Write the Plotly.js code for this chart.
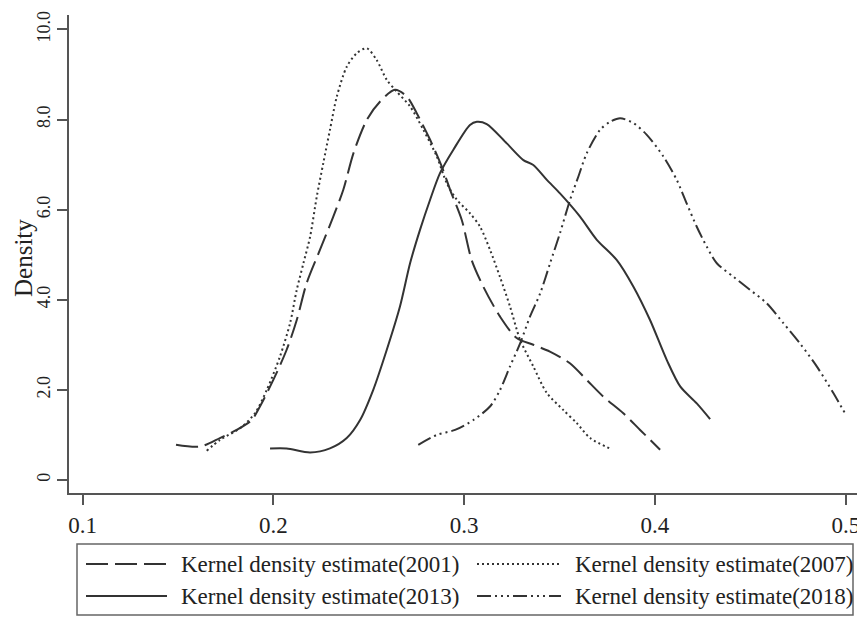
<!DOCTYPE html>
<html>
<head>
<meta charset="utf-8">
<script src="https://cdn.plot.ly/plotly-3.0.1.min.js"></script>
<style>
html,body{margin:0;padding:0;background:#fff;}
#chart{width:857px;height:617px;}
</style>
</head>
<body>
<div id="chart"></div>
<script>
// ---- data ----
const seriesNames = [
  "Kernel density estimate(2001)",
  "Kernel density estimate(2007)",
  "Kernel density estimate(2013)",
  "Kernel density estimate(2018)"
];
const yTitle = "Density";

const x2001 = [0.1489,0.1615,0.1719,0.1807,0.1886,0.1929,0.1999,0.2069,0.2122,0.2174,0.2244,0.2314,0.2366,0.2419,0.2489,0.2559,0.2637,0.2699,0.2751,0.2821,0.2882,0.2926,0.2987,0.3039,0.3100,0.3187,0.3275,0.3362,0.3449,0.3554,0.3642,0.3729,0.3834,0.3922,0.4027];
const y2001 = [0.78,0.74,0.93,1.11,1.33,1.63,2.22,2.89,3.55,4.37,5.11,5.85,6.44,7.25,7.99,8.40,8.66,8.51,8.14,7.55,6.96,6.44,5.77,4.88,4.29,3.63,3.15,3.00,2.85,2.59,2.22,1.85,1.48,1.11,0.67];

const x2007 = [0.1650,0.1720,0.1825,0.1903,0.1965,0.2034,0.2087,0.2122,0.2157,0.2192,0.2227,0.2261,0.2296,0.2332,0.2384,0.2436,0.2489,0.2541,0.2594,0.2646,0.2716,0.2786,0.2856,0.2908,0.2961,0.3030,0.3083,0.3135,0.3187,0.3240,0.3293,0.3362,0.3433,0.3520,0.3590,0.3660,0.3773];
const y2007 = [0.65,0.89,1.15,1.48,2.00,2.74,3.48,4.22,4.81,5.40,6.29,7.03,7.77,8.51,9.17,9.47,9.58,9.32,8.88,8.62,8.29,7.77,7.18,6.59,6.22,5.92,5.62,5.11,4.51,3.85,3.11,2.52,1.93,1.55,1.26,0.93,0.68];

const x2013 = [0.1982,0.2069,0.2192,0.2296,0.2384,0.2454,0.2523,0.2594,0.2663,0.2716,0.2768,0.2821,0.2873,0.2943,0.3030,0.3066,0.3118,0.3223,0.3310,0.3362,0.3433,0.3502,0.3606,0.3695,0.3800,0.3887,0.3974,0.4062,0.4133,0.4219,0.4289];
const y2013 = [0.70,0.70,0.61,0.70,0.93,1.33,2.00,2.89,3.85,4.81,5.55,6.22,6.81,7.33,7.88,7.95,7.90,7.47,7.10,6.99,6.66,6.36,5.85,5.33,4.88,4.29,3.55,2.66,2.07,1.70,1.35];

const x2018 = [0.2759,0.2856,0.2952,0.3048,0.3135,0.3188,0.3240,0.3293,0.3345,0.3398,0.3450,0.3502,0.3555,0.3598,0.3642,0.3712,0.3764,0.3817,0.3887,0.3957,0.4044,0.4114,0.4166,0.4219,0.4271,0.4324,0.4411,0.4498,0.4586,0.4673,0.4760,0.4848,0.4935,0.4996];
const y2018 = [0.78,1.00,1.11,1.33,1.63,2.00,2.52,3.03,3.63,4.14,4.81,5.48,6.22,6.73,7.25,7.77,7.95,8.03,7.92,7.66,7.18,6.66,6.14,5.62,5.18,4.81,4.51,4.22,3.92,3.48,3.03,2.52,1.93,1.48];

const xTickVals = [0.1,0.2,0.3,0.4,0.5];
const xTickText = ["0.1","0.2","0.3","0.4","0.5"];
const yTickVals = [0,2,4,6,8,10];
const yTickText = ["0","2.0","4.0","6.0","8.0","10.0"];

// ---- styling ----
const lineColor = "#333333";
const dashes = ["22px,7px", "2px,3px", "solid", "14px,4px,2px,4px,2px,4px,2px,4px"];
const xs = [x2001, x2007, x2013, x2018];
const ys = [y2001, y2007, y2013, y2018];
const serif = "Liberation Serif, Times New Roman, serif";

const traces = xs.map((xv, i) => ({
  type: "scatter",
  mode: "lines",
  x: xv,
  y: ys[i],
  name: seriesNames[i],
  showlegend: false,
  line: {color: lineColor, width: 2, dash: dashes[i], shape: "spline", smoothing: 0.8}
}));

// plot area in pixels
const W = 857, H = 617;
const mL = 69, mR = 0, mT = 15, mB = 124;
const pw = W - mL - mR, ph = H - mT - mB;
const px = v => (v - mL) / pw;
const py = v => (H - mB - v) / ph;

const shapes = [];
const annotations = [];
// legend box
shapes.push({type: "rect", xref: "paper", yref: "paper",
  x0: px(77), x1: px(853), y0: py(615), y1: py(544),
  line: {color: "#666", width: 1.5}, fillcolor: "rgba(0,0,0,0)"});
const legendPos = [
  {s0: 86, s1: 167, t: 179, y: 564},
  {s0: 477, s1: 561, t: 573, y: 564},
  {s0: 86, s1: 167, t: 179, y: 596},
  {s0: 477, s1: 561, t: 573, y: 596}
];
legendPos.forEach((p, i) => {
  shapes.push({type: "line", xref: "paper", yref: "paper",
    x0: px(p.s0), x1: px(p.s1), y0: py(p.y), y1: py(p.y),
    line: {color: lineColor, width: 2, dash: dashes[i]}});
  annotations.push({xref: "paper", yref: "paper", x: px(p.t), y: py(p.y),
    xanchor: "left", yanchor: "middle", showarrow: false,
    text: seriesNames[i],
    font: {family: serif, size: 23, color: "#222"}});
});
// y-axis title
annotations.push({xref: "paper", yref: "paper", x: px(23), y: py(258),
  xanchor: "center", yanchor: "middle", showarrow: false, textangle: -90,
  text: yTitle, font: {family: serif, size: 25, color: "#222"}});

const layout = {
  width: W, height: H,
  margin: {l: mL, r: mR, t: mT, b: mB, pad: 0},
  paper_bgcolor: "#fff", plot_bgcolor: "#fff",
  font: {family: serif, color: "#222"},
  showlegend: false,
  xaxis: {
    range: [0.0928, 0.5059],
    tickvals: xTickVals, ticktext: xTickText,
    showline: true, linecolor: "#555", linewidth: 2,
    ticks: "outside", ticklen: 10, tickwidth: 2, tickcolor: "#555",
    showgrid: false, zeroline: false,
    ticklabeloverflow: "allow",
    tickfont: {size: 23, color: "#222"}
  },
  yaxis: {
    range: [-0.29, 10.32],
    tickvals: yTickVals, ticktext: yTickText,
    showline: true, linecolor: "#555", linewidth: 2,
    ticks: "outside", ticklen: 10, tickwidth: 2, tickcolor: "#555",
    showgrid: false, zeroline: false,
    tickangle: -90,
    tickfont: {size: 18, color: "#222"}
  },
  shapes: shapes,
  annotations: annotations
};

Plotly.newPlot("chart", traces, layout, {displayModeBar: false, staticPlot: true});
</script>
</body>
</html>
